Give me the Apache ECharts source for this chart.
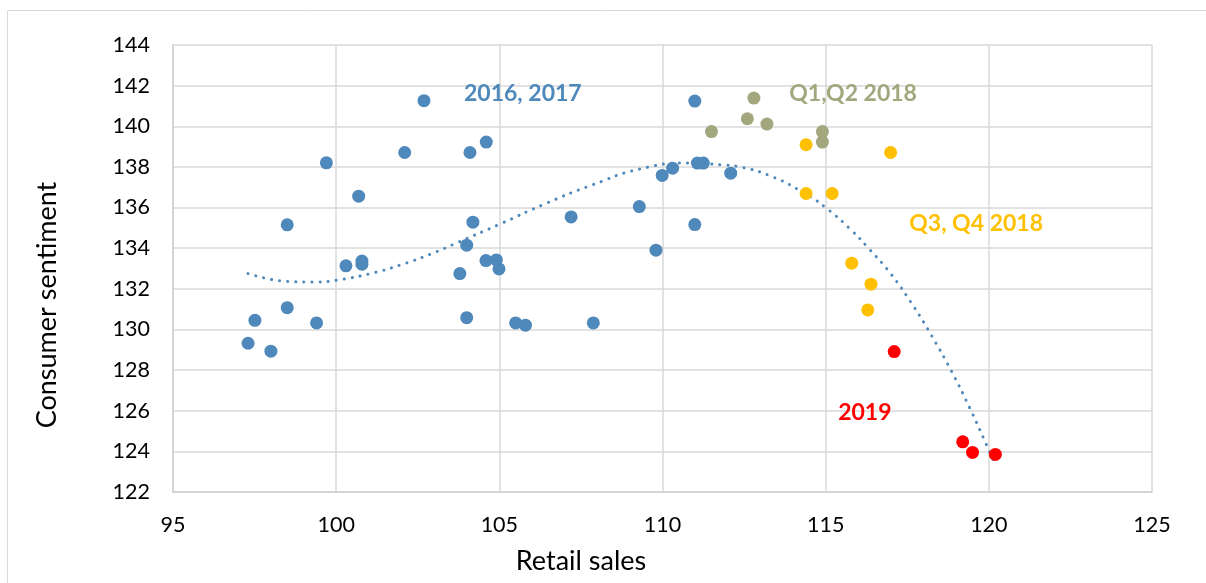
<!DOCTYPE html>
<html>
<head>
<meta charset="utf-8">
<script src="https://cdn.jsdelivr.net/npm/echarts@6/dist/echarts.min.js"></script>
<style>
  html, body { margin: 0; padding: 0; background: #fff; }
  #chart { width: 1206px; height: 583px; }
</style>
</head>
<body>
<div id="chart"></div>
<script>
// 2016, 2017
var blueData = [
	[102.69,141.26],[102.1,138.71],[99.7,138.2],[100.69,136.56],[98.5,135.15],
	[104.1,138.71],[104.6,139.22],[104.19,135.28],[104.0,134.15],[104.59,133.39],
	[104.91,133.42],[104.99,132.98],[103.79,132.75],[100.3,133.13],[100.79,133.37],
	[100.79,133.21],[98.5,131.07],[97.51,130.45],[99.4,130.32],[97.3,129.32],
	[98.0,128.93],[104.0,130.58],[105.5,130.32],[105.8,130.21],[107.88,130.32],
	[107.2,135.54],[109.29,136.05],[109.8,133.9],[110.99,135.16],[110.99,141.24],
	[109.99,137.58],[110.31,137.94],[111.07,138.19],[111.25,138.19],[112.09,137.69]
];
// Q1,Q2 2018
var oliveData = [
	[111.5,139.74],[112.8,141.39],[112.6,140.37],[113.2,140.11],[114.9,139.74],[114.9,139.22]
];
// Q3, Q4 2018
var yellowData = [
	[114.4,139.09],[116.99,138.71],[114.4,136.69],[115.2,136.69],[115.8,133.26],[116.39,132.23],[116.29,130.96]
];
// 2019
var redData = [
	[117.1,128.91],[119.2,124.47],[119.5,123.95],[120.2,123.85]
];
// dotted trend line
var trendData = [
	[97.3,132.75],[98.55,132.36],[99.3,132.33],[100.06,132.44],[101.05,132.75],
	[102.0,133.19],[102.96,133.75],[103.68,134.25],[105.04,135.2],[106.45,136.22],
	[107.86,137.12],[109.29,137.89],[110.8,138.19],[111.81,138.1],[112.3,138.02],
	[113.3,137.56],[114.4,136.66],[115.02,135.97],[115.78,134.9],[116.31,134.0],
	[116.98,132.77],[117.7,131.12],[118.24,129.71],[118.85,127.96],[119.42,126.12],
	[119.84,124.64],[120.15,123.52]
];
var groupLabels = [
	{ name: '2016, 2017', coord: [105.72,141.6], color: '#4f88bb' },
	{ name: 'Q1,Q2 2018', coord: [115.84,141.6], color: '#a3a77e' },
	{ name: 'Q3, Q4 2018', coord: [119.61,135.2], color: '#ffc000' },
	{ name: '2019', coord: [116.2,125.9], color: '#ff0000' }
];

var FONT = 'Lato';
var chart = echarts.init(document.getElementById('chart'));

function dots(name, data, color){
	return {
		name: name,
		type: 'scatter',
		data: data,
		symbolSize: 13,
		itemStyle: { color: color, opacity: 1 },
		z: 3
	};
}

var labelPoints = groupLabels.map(function(g){
	return {
		name: g.name,
		coord: g.coord,
		symbolSize: 0,
		label: {
			show: true,
			position: 'inside',
			formatter: g.name,
			color: g.color,
			fontFamily: FONT,
			fontWeight: 'bold',
			fontSize: 23
		}
	};
});

var option = {
	animation: false,
	backgroundColor: '#fff',
	graphic: [{
		type: 'rect',
		shape: { x: 7.5, y: 10.5, width: 1240, height: 620 },
		style: { fill: 'none', stroke: '#d9d9d9', lineWidth: 1 },
		silent: true
	}, {
		// x axis title
		type: 'text',
		x: 581, y: 561,
		style: { text: 'Retail sales', fill: '#000', font: '27px Lato', align: 'center', verticalAlign: 'middle' },
		silent: true
	}, {
		// y axis title
		type: 'text',
		x: 47, y: 305,
		rotation: Math.PI / 2,
		style: { text: 'Consumer sentiment', fill: '#000', font: '27px Lato', align: 'center', verticalAlign: 'middle' },
		silent: true
	}],
	grid: { left: 173, right: 54, top: 45, bottom: 91 },
	xAxis: {
		type: 'value',
		min: 95, max: 125, interval: 5,
		axisLine: { show: true, lineStyle: { color: '#d0d0d0', width: 1.5 } },
		axisTick: { show: false },
		axisLabel: { margin: 22, fontFamily: FONT, fontSize: 21.5, color: '#000' },
		splitLine: { show: true, lineStyle: { color: '#d9d9d9', width: 1.5 } }
	},
	yAxis: {
		type: 'value',
		min: 122, max: 144, interval: 2,
		axisLine: { show: true, lineStyle: { color: '#d0d0d0', width: 1.5 } },
		axisTick: { show: false },
		axisLabel: { margin: 23, fontFamily: FONT, fontSize: 21.5, color: '#000' },
		splitLine: { show: true, lineStyle: { color: '#d9d9d9', width: 1.5 } }
	},
	series: [
		{
			name: 'Trend',
			type: 'line',
			data: trendData,
			smooth: true,
			showSymbol: false,
			symbol: 'none',
			lineStyle: { color: '#4f88bb', width: 3, type: [0.1, 8], cap: 'round' },
			z: 2
		},
		dots('2016, 2017', blueData, '#4f88bb'),
		dots('Q1,Q2 2018', oliveData, '#a3a77e'),
		dots('Q3, Q4 2018', yellowData, '#ffc000'),
		dots('2019', redData, '#ff0000'),
		{
			name: 'labels',
			type: 'scatter',
			data: [],
			markPoint: { symbol: 'circle', data: labelPoints, silent: true },
			z: 4
		}
	]
};

chart.setOption(option);
</script>
</body>
</html>
